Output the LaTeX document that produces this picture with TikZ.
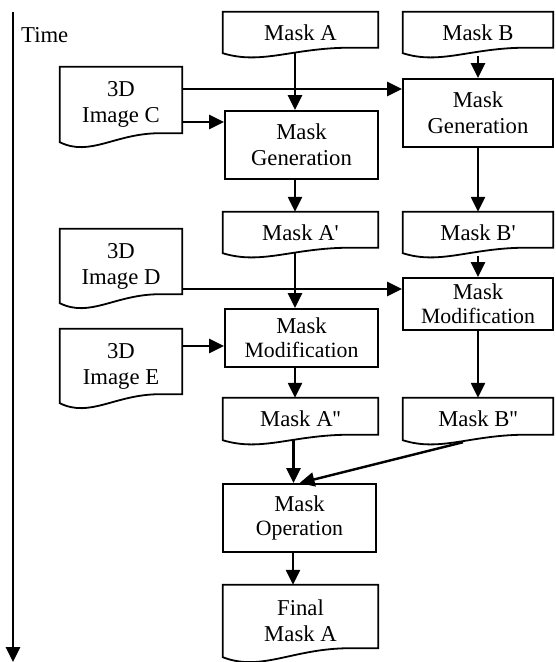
\documentclass[tikz,border=0pt]{standalone}
\usepackage{fontspec}
\setmainfont{Liberation Serif}[Ligatures=TeXOff]
\usetikzlibrary{arrows.meta,calc}

\tikzset{
  boxline/.style={line width=1.8pt, line join=miter},
  doc/.style={rectangle, inner sep=0pt, align=center},
  proc/.style={draw, boxline, rectangle, inner sep=0pt, align=center},
  arr/.style={line width=2.4pt, -{Triangle[length=15pt,width=14pt]}},
  big/.style={font=\fontsize{22.7}{26}\selectfont},
}
% second line of the process boxes is set a little smaller
\newcommand\smtext[1]{{\fontsize{21.8}{26}\selectfont #1}}
% document symbol: straight top and sides, wavy bottom edge
\newcommand\docoutline[3]{%
  \draw[boxline] let \p1=(#1.south west), \p2=(#1.north east), \n1={\x2-\x1} in
    (\p1) -- (\x1,\y2) -- (\p2) -- (\x2,\y1+#2)
    -- (\x1+0.82*\n1,\y1+#2)
    .. controls (\x1+0.45*\n1,\y1+#2) and (\x1+0.25*\n1,\y1-#3) .. (\p1) -- cycle;
}

\begin{document}
\begin{tikzpicture}[x=1pt, y=-1pt, big]
\useasboundingbox (0,0) rectangle (555,662);

% time axis
\coordinate (t0) at (13,12);
\coordinate (t1) at (13,662);
\draw[line width=2.6pt, -{Triangle[length=15pt,width=14pt]}] (t0) -- (t1);
\node[anchor=west, inner sep=0pt] (time) at (21,35) {Time};

% input documents
\node[doc, minimum width=155, minimum height=41] (maskA) at (300.5,32.5) {Mask A};
\node[doc, minimum width=150, minimum height=41] (maskB) at (478,32.5) {Mask B};
\node[doc, minimum width=122, minimum height=75] (imgC) at (121,104.5) {3D\\Image C};
\node[doc, minimum width=122, minimum height=74] (imgD) at (121,266) {3D\\Image D};
\node[doc, minimum width=122, minimum height=74] (imgE) at (121,366) {3D\\Image E};

% intermediate and final masks
\node[doc, minimum width=155, minimum height=41] (maskA1) at (300.5,232.5) {Mask A'};
\node[doc, minimum width=150, minimum height=41] (maskB1) at (478,232.5) {Mask B'};
\node[doc, minimum width=155, minimum height=42] (maskA2) at (300.5,419) {Mask A''};
\node[doc, minimum width=150, minimum height=42] (maskB2) at (478,419) {Mask B''};
\node[doc, minimum width=155, minimum height=72] (final) at (300.5,621) {Final\\Mask A};

\foreach \nm in {maskA,maskB,maskA1,maskB1,maskA2,maskB2} {\docoutline{\nm}{5.5}{12}}
\foreach \nm in {imgC,imgD,imgE,final} {\docoutline{\nm}{9}{15}}

% processing steps
\node[proc, minimum width=153, minimum height=68] (genA) at (301.5,145) {Mask\\Generation};
\node[proc, minimum width=150, minimum height=68] (genB) at (478,113) {Mask\\Generation};
\node[proc, minimum width=153, minimum height=58] (modA) at (301.5,338) {Mask\\[-2pt]\smtext{Modification}};
\node[proc, minimum width=150, minimum height=52] (modB) at (478,304) {\raisebox{-6pt}{\parbox{150pt}{\centering Mask\\[-2pt]\smtext{Modification}}}};
\node[proc, minimum width=153, minimum height=68] (op) at (299.5,518) {Mask\\[-2pt]\smtext{Operation}};

% connectors
\draw[arr] ([xshift=-5.5pt]maskA.south) -- ([xshift=-5.5pt]maskA.south |- genA.north);
\draw[arr] ([yshift=-3pt]maskB.south) -- (genB.north);
\draw[arr] ([yshift=15.5pt]imgC.east) -- ([yshift=15.5pt]imgC.east -| genB.west);
\draw[arr] ([yshift=-17.5pt]imgC.east) -- ([yshift=-17.5pt]imgC.east -| genA.west);
\draw[arr] ([xshift=-6.5pt]genA.south) -- ([xshift=-6.5pt]genA.south |- maskA1.north);
\draw[arr] (genB.south) -- (maskB1.north);
\draw[arr] ([xshift=-5.5pt]maskA1.south) -- ([xshift=-5.5pt]maskA1.south |- modA.north);
\draw[arr] ([yshift=-3pt]maskB1.south) -- (modB.north);
\draw[arr] ([yshift=-23pt]imgD.east) -- ([yshift=-23pt]imgD.east -| modB.west);
\draw[arr] ([yshift=20pt]imgE.east) -- ([yshift=20pt]imgE.east -| modA.west);
\draw[arr] ([xshift=-6.5pt]modA.south) -- ([xshift=-6.5pt]modA.south |- maskA2.north);
\draw[arr] (modB.south) -- (maskB2.north);
\draw[arr] ([xshift=-7pt]maskA2.south) -- ([xshift=-7pt]maskA2.south |- op.north);
\draw[arr] ([xshift=-15pt,yshift=-2pt]maskB2.south) -- (op.north);
\draw[arr] ([xshift=-6.5pt]op.south) -- ([xshift=-6.5pt]op.south |- final.north);
\end{tikzpicture}
\end{document}
